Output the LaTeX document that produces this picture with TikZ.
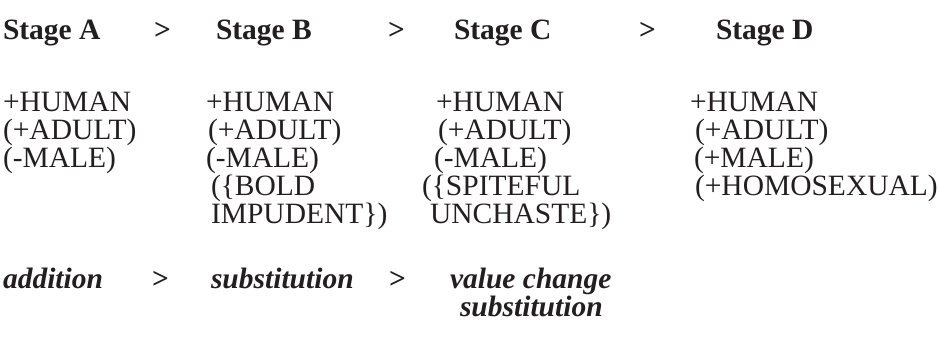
\documentclass[tikz,border=0pt]{standalone}
\usepackage{fontspec}
\setmainfont{Liberation Serif}
\definecolor{ink}{HTML}{231F20}
\begin{document}
\begin{tikzpicture}[x=1pt,y=-1pt,
  t/.style={anchor=base west,inner sep=0pt,outer sep=0pt,text=ink,font=\fontsize{29.5}{29.5}\selectfont},
  hd/.style={t,font=\fontsize{29.5}{29.5}\selectfont\bfseries},
  op/.style={t,font=\fontsize{29.5}{29.5}\selectfont\bfseries\itshape}]
\useasboundingbox (0,0) rectangle (939,346);
% header
\node[hd] (sa) at (3,39) {Stage A};
\node[hd] (g1) at (154,39) {>};
\node[hd] (sb) at (216,39) {Stage B};
\node[hd] (g2) at (388,39) {>};
\node[hd] (sc) at (454,39) {Stage C};
\node[hd] (g3) at (639,39) {>};
\node[hd] (sd) at (716,39) {Stage D};
% column A
\node[t] (a1) at (3,111) {+HUMAN};
\node[t] (a2) at (3,139) {(+ADULT)};
\node[t] (a3) at (3,167) {(-MALE)};
% column B
\node[t] (b1) at (206,111) {+HUMAN};
\node[t] (b2) at (208,139) {(+ADULT)};
\node[t] (b3) at (206,167) {(-MALE)};
\node[t] (b4) at (211,195) {(\{BOLD};
\node[t] (b5) at (211,223) {IMPUDENT\})};
% column C
\node[t] (c1) at (436,111) {+HUMAN};
\node[t] (c2) at (438,139) {(+ADULT)};
\node[t] (c3) at (434,167) {(-MALE)};
\node[t] (c4) at (422,195) {(\{SPITEFUL};
\node[t] (c5) at (430,223) {UNCHASTE\})};
% column D
\node[t] (d1) at (690,111) {+HUMAN};
\node[t] (d2) at (695,139) {(+ADULT)};
\node[t] (d3) at (694,167) {(+MALE)};
\node[t] (d4) at (695,195) {(+HOMOSEXUAL)};
% bottom
\node[op] (o1) at (3,288) {addition};
\node[hd] (h1) at (152,288) {>};
\node[op] (o2) at (211,288) {substitution};
\node[hd] (h2) at (389,288) {>};
\node[op] (o3) at (450,288) {value change};
\node[op] (o4) at (460,316) {substitution};
\end{tikzpicture}
\end{document}
